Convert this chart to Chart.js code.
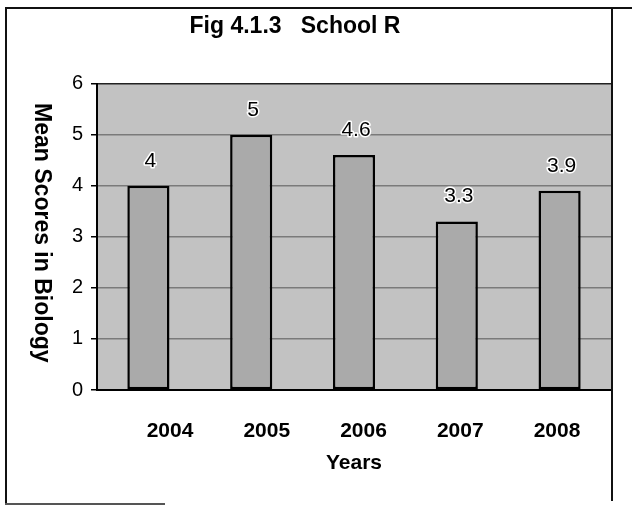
<!DOCTYPE html>
<html lang="en">
<head>
<meta charset="UTF-8">
<title>Fig 4.1.3 School R</title>
<script src="https://cdn.jsdelivr.net/npm/chart.js"></script>
<style>
  body { margin: 0; background: #fff; font-family: "Liberation Sans", Arial, sans-serif; }
  #wrap { position: relative; width: 632px; height: 506px; overflow: hidden; }
  #chart { position: absolute; left: -21px; top: 0; }
  .line { position: absolute; background: #111; }
</style>
</head>
<body>
<div id="wrap">
  <canvas id="chart" width="653" height="506"></canvas>
  <!-- scanned page frame -->
  <div class="line" style="left:6px; top:7px; width:626px; height:2px;"></div>
  <div class="line" style="left:5px; top:7px; width:2px; height:498px;"></div>
  <div class="line" style="left:611px; top:7px; width:2px; height:494px;"></div>
  <div class="line" style="left:5px; top:503px; width:160px; height:1.5px; background:#555;"></div>
</div>

<script>
  const years = ['2004', '2005', '2006', '2007', '2008'];
  const meanScores = [4, 5, 4.6, 3.3, 3.9];
  const yTicks = [0, 1, 2, 3, 4, 5, 6];

  const FONT = '"Liberation Sans", Arial, sans-serif';

  // grey plot area
  const plotBackground = {
    id: 'plotBackground',
    beforeDraw(chart) {
      const { ctx, chartArea: a } = chart;
      ctx.save();
      ctx.fillStyle = '#c2c2c2';
      ctx.fillRect(a.left, a.top, a.right - a.left, a.bottom - a.top);
      ctx.restore();
    }
  };

  // value above each bar, white halo like the original
  const valueLabels = {
    id: 'valueLabels',
    afterDatasetsDraw(chart) {
      const ctx = chart.ctx;
      const meta = chart.getDatasetMeta(0);
      ctx.save();
      ctx.font = '21px ' + FONT;
      ctx.textAlign = 'center';
      ctx.textBaseline = 'alphabetic';
      ctx.lineJoin = 'round';
      meta.data.forEach((bar, i) => {
        const txt = String(meanScores[i]);
        ctx.strokeStyle = '#fff';
        ctx.lineWidth = 3;
        ctx.strokeText(txt, bar.x + 2, bar.y - 19);
        ctx.fillStyle = '#000';
        ctx.fillText(txt, bar.x + 2, bar.y - 19);
      });
      ctx.restore();
    }
  };

  // y title reads top-to-bottom in the original
  const yTitle = {
    id: 'yTitle',
    afterDraw(chart) {
      const ctx = chart.ctx;
      const a = chart.chartArea;
      ctx.save();
      ctx.translate(62, (a.top + a.bottom) / 2 - 4);
      ctx.rotate(Math.PI / 2);
      ctx.font = 'bold 23px ' + FONT;
      ctx.fillStyle = '#000';
      ctx.textAlign = 'center';
      ctx.textBaseline = 'middle';
      ctx.fillText('Mean Scores in Biology', 0, 0);
      ctx.restore();
    }
  };

  new Chart(document.getElementById('chart'), {
    type: 'bar',
    data: {
      labels: years,
      datasets: [{
        data: meanScores,
        backgroundColor: '#aaaaaa',
        borderColor: '#000',
        borderWidth: 2.5,
        borderSkipped: false,
        barPercentage: 0.41,
        categoryPercentage: 1
      }]
    },
    options: {
      responsive: false,
      animation: false,
      devicePixelRatio: 1,
      layout: { padding: { left: 0, right: 21, top: 0, bottom: 30 } },
      plugins: {
        legend: { display: false },
        tooltip: { enabled: false },
        title: {
          display: true,
          text: 'Fig 4.1.3   School R',
          color: '#000',
          font: { family: FONT, size: 23, weight: 'bold' },
          padding: { top: 13, bottom: 43 }
        }
      },
      scales: {
        x: { display: false },
        // year labels sit a little off the bars in the scan, so they get their own axis
        x2: {
          type: 'linear',
          position: 'bottom',
          offset: false,
          min: 2003.245,
          max: 2008.558,
          bounds: 'data',
          afterBuildTicks: s => { s.ticks = years.map(v => ({ value: Number(v) })); },
          afterFit: s => { s.height = 86; },
          ticks: {
            callback: v => String(v),
            autoSkip: false,
            maxRotation: 0,
            color: '#000',
            padding: 29,
            font: { family: FONT, size: 21, weight: 'bold' }
          },
          grid: { display: false, drawTicks: false, offset: false },
          border: { display: true, color: '#000', width: 2 },
          title: {
            display: true,
            text: 'Years',
            color: '#000',
            font: { family: FONT, size: 21, weight: 'bold' },
            padding: { top: 6, bottom: 0 }
          }
        },
        y: {
          min: 0,
          max: 6,
          afterBuildTicks: s => { s.ticks = yTicks.map(v => ({ value: v })); },
          afterFit: s => { s.width = 118; },
          ticks: {
            color: '#000',
            padding: 8,
            font: { family: FONT, size: 20 }
          },
          grid: {
            color: c => (c.tick && c.tick.value === 6 ? '#222' : '#7a7a7a'),
            lineWidth: 1.5,
            tickLength: 6,
            tickColor: '#000',
            tickWidth: 1.5
          },
          border: { color: '#000', width: 2 }
        }
      }
    },
    plugins: [plotBackground, valueLabels, yTitle]
  });
</script>
</body>
</html>
